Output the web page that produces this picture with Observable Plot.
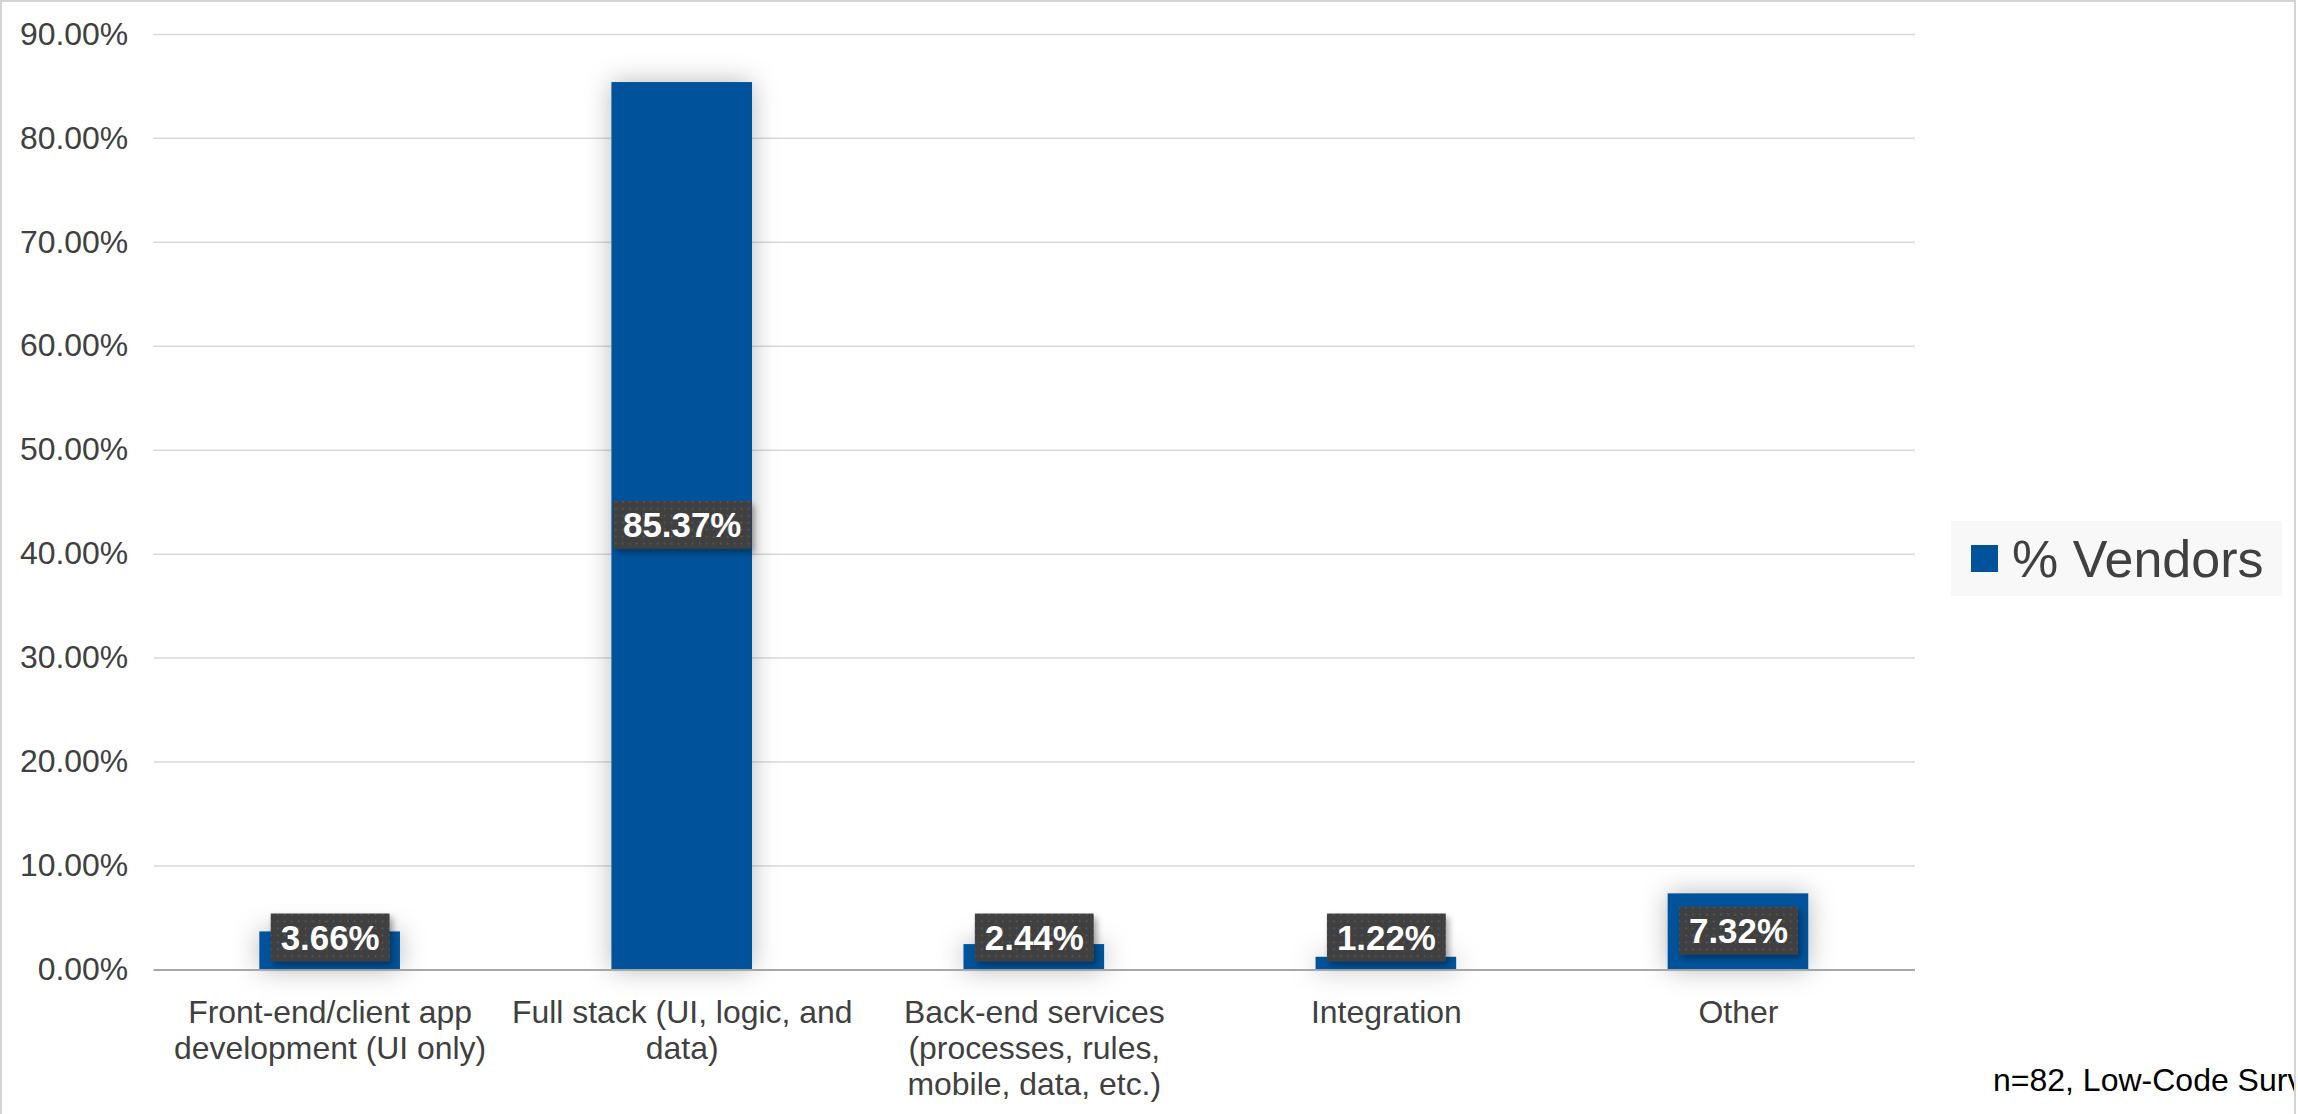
<!DOCTYPE html>
<html>
<head>
<meta charset="utf-8">
<script src="https://cdn.jsdelivr.net/npm/d3@7"></script>
<script src="https://cdn.jsdelivr.net/npm/@observablehq/plot@0.6"></script>
<style>
  html, body { margin: 0; padding: 0; background: #fff; }
  #frame {
    position: absolute; left: 0; top: 0; width: 2296px; height: 1130px;
    border: 2px solid #d4d4d4; box-sizing: border-box; overflow: hidden;
    font-family: "Liberation Sans", Arial, sans-serif;
  }
  #frame svg { position: absolute; left: -2px; top: -2px; }
  #legend {
    position: absolute; left: 1949px; top: 519px; width: 331px; height: 75px;
    background: #f8f8f8;
  }
  #legend .sw { position: absolute; left: 20px; top: 24px; width: 27px; height: 27px; background: #00529b; }
  #legend .lt { position: absolute; left: 61px; top: 12px; font-size: 52px; line-height: 52px; color: #404040; white-space: nowrap; }
  #caption {
    position: absolute; left: 1991px; top: 1062px; font-size: 32px; line-height: 32px;
    color: #000; white-space: nowrap;
  }
</style>
</head>
<body>
<div id="frame">
  <div id="legend"><div class="sw"></div><div class="lt"></div></div>
  <div id="caption"></div>
</div>
<script>
// ---- Data ----
const categories = [
  "Front-end/client app development (UI only)",
  "Full stack (UI, logic, and data)",
  "Back-end services (processes, rules, mobile, data, etc.)",
  "Integration",
  "Other"
];
const tickLabels = [
  "Front-end/client app\ndevelopment (UI only)",
  "Full stack (UI, logic, and\ndata)",
  "Back-end services\n(processes, rules,\nmobile, data, etc.)",
  "Integration",
  "Other"
];
const values = [3.66, 85.37, 2.44, 1.22, 7.32];
const yTicks = [0, 10, 20, 30, 40, 50, 60, 70, 80, 90];
const seriesName = "% Vendors";
const captionText = "n=82, Low-Code Survey";

const data = categories.map((c, i) => ({category: c, value: values[i], label: values[i].toFixed(2) + "%"}));
const labelOf = new Map(categories.map((c, i) => [c, tickLabels[i]]));

const barColor = "#00529b";

const chart = Plot.plot({
  width: 2298,
  height: 1114,
  marginLeft: 154,
  marginRight: 378,
  marginTop: 34,
  marginBottom: 142,
  style: {fontFamily: "Liberation Sans, Arial, sans-serif", fontSize: "32px", color: "#404040", background: "transparent", overflow: "visible"},
  x: {domain: categories, paddingInner: 0.6, paddingOuter: 0.3},
  y: {domain: [0, 90]},
  marks: [
    Plot.ruleY(yTicks, {stroke: "#d9d9d9", strokeWidth: 1.5}),
    Plot.barY(data, {x: "category", y: "value", fill: barColor}),
    Plot.ruleY([0], {stroke: "#a6a6a6", strokeWidth: 2}),
    Plot.axisY({ticks: yTicks, tickFormat: d => d.toFixed(2) + "%", tickSize: 0, tickPadding: 26, fontSize: 32, label: null, fill: "#404040"}),
    Plot.axisX({tickSize: 0, tickPadding: 27, tickFormat: d => labelOf.get(d), lineHeight: 1.14, fontSize: 32, label: null, fill: "#404040"}),
    Plot.text(data, {x: "category", y: d => Math.max(d.value / 2, 3), text: "label", fill: "white", fontWeight: "bold", fontSize: 35})
  ]
});

const frame = document.getElementById("frame");
frame.insertBefore(chart, frame.firstChild);
document.querySelector("#legend .lt").textContent = seriesName;
document.querySelector("#legend .sw").style.background = barColor;
document.getElementById("caption").textContent = captionText;

// ---- Styling: shadows and label boxes ----
const ns = "http://www.w3.org/2000/svg";
function el(tag, attrs, parent) {
  const e = document.createElementNS(ns, tag);
  for (const k in attrs) e.setAttribute(k, attrs[k]);
  if (parent) parent.appendChild(e);
  return e;
}
const defs = el("defs", {});
chart.insertBefore(defs, chart.firstChild);
const pat = el("pattern", {id: "dots", width: 7, height: 7, patternUnits: "userSpaceOnUse"}, defs);
el("rect", {width: 7, height: 7, fill: "#404040"}, pat);
el("circle", {cx: 3.5, cy: 3.5, r: 0.9, fill: "#5c5c5c"}, pat);
const f1 = el("filter", {id: "barShadow", x: "-60%", y: "-60%", width: "220%", height: "220%"}, defs);
el("feDropShadow", {dx: 0, dy: 0, stdDeviation: 13, "flood-color": "#000", "flood-opacity": 0.28}, f1);
const f2 = el("filter", {id: "lblShadow", x: "-30%", y: "-30%", width: "170%", height: "180%"}, defs);
el("feDropShadow", {dx: 3, dy: 4, stdDeviation: 3, "flood-color": "#000", "flood-opacity": 0.35}, f2);

// bar group: the group whose rects carry the bar fill
chart.querySelectorAll("g").forEach(g => {
  const fill = (g.getAttribute("fill") || "").toLowerCase();
  if (fill === barColor && g.querySelector("rect")) g.setAttribute("filter", "url(#barShadow)");
});

// label group: text group filled white
chart.querySelectorAll("g").forEach(g => {
  const fill = (g.getAttribute("fill") || "").toLowerCase();
  if (fill !== "white") return;
  g.querySelectorAll("text").forEach(t => {
    const b = t.getBBox();
    const cy = b.y + b.height / 2;
    const r = el("rect", {
      x: b.x - 10, y: cy - 24, width: b.width + 20, height: 48,
      fill: "url(#dots)", filter: "url(#lblShadow)"
    });
    const tr = t.getAttribute("transform");
    if (tr) r.setAttribute("transform", tr);
    g.insertBefore(r, t);
  });
});
</script>
</body>
</html>
